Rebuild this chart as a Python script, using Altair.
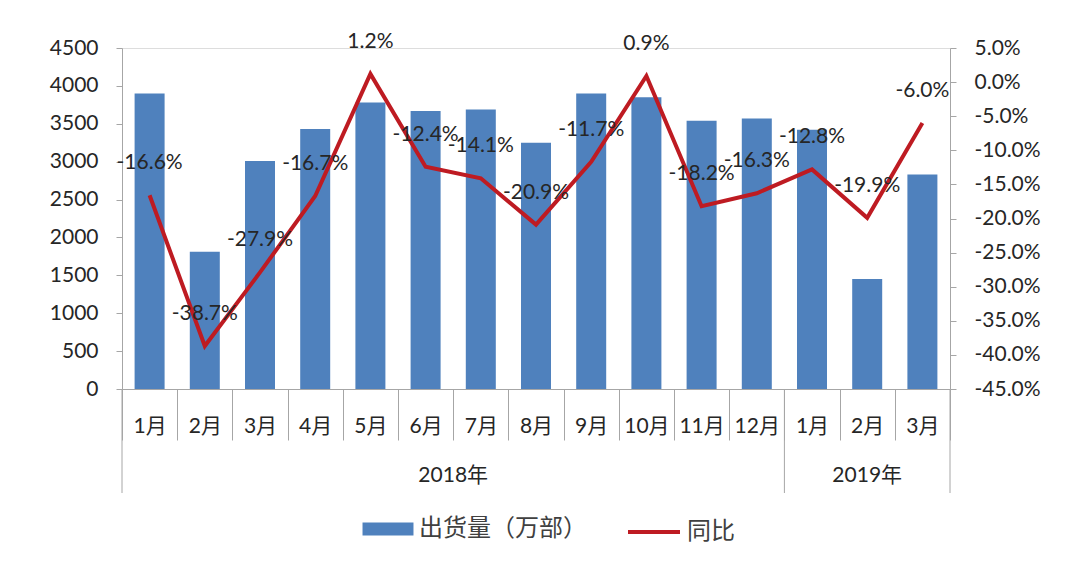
import altair as alt
import pandas as pd

# ---- data ----
years = ["2018年"] * 12 + ["2019年"] * 3
months = ["1月", "2月", "3月", "4月", "5月", "6月", "7月", "8月", "9月", "10月", "11月", "12月",
          "1月", "2月", "3月"]
shipments = [3900, 1810, 3010, 3430, 3780, 3670, 3690, 3250, 3900, 3850, 3540, 3570, 3420, 1450, 2830]
yoy = [-16.6, -38.7, -27.9, -16.7, 1.2, -12.4, -14.1, -20.9, -11.7, 0.9, -18.2, -16.3, -12.8, -19.9, -6.0]
bar_name = "出货量（万部）"
line_name = "同比"
left_ticks = [0, 500, 1000, 1500, 2000, 2500, 3000, 3500, 4000, 4500]
right_ticks = [5, 0, -5, -10, -15, -20, -25, -30, -35, -40, -45]

BLUE = "#4F81BD"
RED = "#BE1B22"
GREY = "#A6A6A6"
TXT = "#262626"
FONT = "Lato, 'Noto Sans CJK SC', sans-serif"

W, H = 828, 341

keys = [f"{y}|{m}" for y, m in zip(years, months)]
df = pd.DataFrame({
    "key": keys, "year": years, "month": months,
    "shipments": shipments, "yoy": yoy,
    "bar_series": bar_name, "line_series": line_name,
})

PCT = "replace(format({v}, '.1f'), '\u2212', '-') + '%'"

x_axis = alt.Axis(
    title=None, labelExpr="split(datum.value, '|')[1]", labelAngle=0,
    tickBand="extent", tickSize=51, tickColor=GREY, domainColor=GREY,
    labelFontSize=21, labelColor=TXT, labelPadding=-14, labelBaseline="middle",
    labelFont=FONT, grid=False,
)
x_scale = alt.Scale(domain=keys, paddingInner=0, paddingOuter=0)


def xenc(**kw):
    return alt.X("key:N", scale=x_scale, axis=x_axis, sort=keys, **kw)


base = alt.Chart(df)

bars = base.mark_bar(size=30).encode(
    x=xenc(),
    y=alt.Y("shipments:Q",
            scale=alt.Scale(domain=[0, 4500], nice=False),
            axis=alt.Axis(title=None, values=left_ticks, grid=False, tickSize=6, format="d",
                          tickColor=GREY, domainColor=GREY, labelFontSize=21,
                          labelColor=TXT, labelPadding=18, labelFont=FONT)),
    color=alt.Color("bar_series:N",
                    scale=alt.Scale(domain=[bar_name], range=[BLUE]),
                    legend=alt.Legend(orient="none", legendX=254, legendY=469, title=None,
                                      symbolType="M-3.92,-1H3.92V1H-3.92Z",
                                      symbolSize=169, symbolStrokeWidth=0,
                                      labelFontSize=24, labelColor="#404040", labelLimit=0,
                                      labelOffset=19, labelFont=FONT, padding=0)),
)

yr = alt.Y("yoy:Q",
           scale=alt.Scale(domain=[-45, 5], nice=False),
           axis=alt.Axis(title=None, orient="right", values=right_ticks, grid=False,
                         tickSize=6, tickColor=GREY, domainColor=GREY, labelFontSize=21,
                         labelColor=TXT, labelPadding=18, labelFont=FONT,
                         labelExpr=PCT.format(v="datum.value")))

line = base.mark_line(strokeWidth=4).encode(
    x=xenc(),
    y=yr,
    stroke=alt.Stroke("line_series:N",
                      scale=alt.Scale(domain=[line_name], range=[RED]),
                      legend=alt.Legend(orient="none", legendX=504, legendY=456, title=None,
                                        symbolType="stroke", symbolSize=2704,
                                        symbolStrokeWidth=4, labelFontSize=24, labelLimit=0,
                                        labelColor="#404040", labelOffset=5,
                                        labelFont=FONT, padding=0)),
)

labels = base.mark_text(fontSize=21, color=TXT, dy=-32, font=FONT).transform_calculate(
    label=PCT.format(v="datum.yoy")
).encode(x=xenc(), y=yr, text="label:N")

right_layer = alt.layer(line, labels)

# year group separators and labels, positioned through the band scale
year_names = []
for y in years:
    if y not in year_names:
        year_names.append(y)
starts = [keys[years.index(y)] for y in year_names]

sep_start = alt.Chart(pd.DataFrame({"key": starts})).mark_rule(color=GREY, strokeWidth=1).encode(
    x=xenc(bandPosition=0), y=alt.value(H), y2=alt.value(H + 104))
sep_end = alt.Chart(pd.DataFrame({"key": [keys[-1]]})).mark_rule(color=GREY, strokeWidth=1).encode(
    x=xenc(bandPosition=1), y=alt.value(H), y2=alt.value(H + 104))

year_layers = []
for y in year_names:
    i0 = years.index(y)
    n = years.count(y)
    mid = i0 + n / 2
    idx = int(mid)
    if idx >= len(keys):
        idx = len(keys) - 1
    bp = mid - idx
    year_layers.append(
        alt.Chart(pd.DataFrame({"key": [keys[idx]], "year": [y]})).mark_text(
            fontSize=21, color=TXT, font=FONT, baseline="middle"
        ).encode(x=xenc(bandPosition=bp), y=alt.value(H + 87), text="year:N")
    )

chart = alt.layer(bars, right_layer, sep_start, sep_end, *year_layers).resolve_scale(
    y="independent", color="independent", stroke="independent"
).properties(
    width=W, height=H,
    autosize=alt.AutoSizeParams(type="none"),
    padding={"left": 114, "top": 40, "right": 110, "bottom": 180},
).configure_view(stroke=None).configure(font=FONT, background="white")

chart.save("out.html", embed_options={"renderer": "svg", "actions": False})
